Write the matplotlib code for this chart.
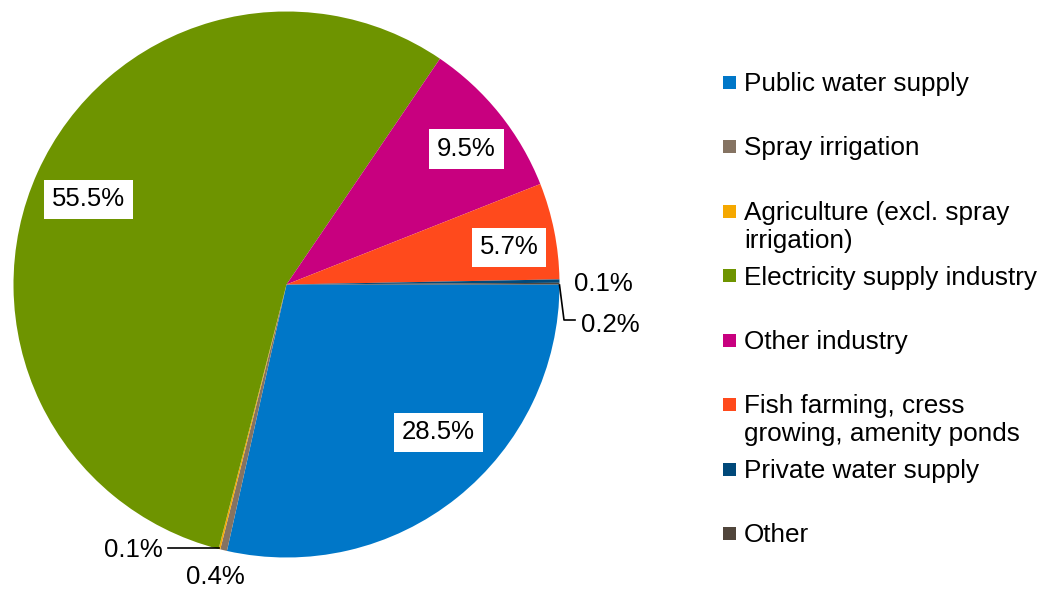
import numpy as np
import matplotlib
matplotlib.use('Agg')
import matplotlib.pyplot as plt
from matplotlib.patches import Rectangle

plt.rcParams['font.family'] = ['Liberation Sans', 'DejaVu Sans']

# abstraction shares by purpose, clockwise from 3 o'clock
categories = ['Public water supply', 'Spray irrigation',
              'Agriculture (excl. spray\nirrigation)', 'Electricity supply industry',
              'Other industry', 'Fish farming, cress\ngrowing, amenity ponds',
              'Private water supply', 'Other']
shares = [28.5, 0.4, 0.1, 55.5, 9.5, 5.7, 0.2, 0.1]
colours = ['#0077C8', '#857362', '#F5A800', '#6E9400',
           '#C8007F', '#FF4A1C', '#00497A', '#50453B']

W, H = 1048, 589
fig = plt.figure(figsize=(W / 100, H / 100), dpi=100)

cx, cy, r = 286.5, 284.5, 273.0
ax = fig.add_axes([(cx - r) / W, (H - cy - r) / H, 2 * r / W, 2 * r / H])
ax.pie(shares, colors=colours, startangle=0, counterclock=False, radius=1.0,
       wedgeprops=dict(linewidth=0))
ax.set_xlim(-1, 1)
ax.set_ylim(-1, 1)
ax.set_aspect('equal')
ax.axis('off')


def px(x, y):
    return (x - cx) / r, (cy - y) / r


fs = 18.5
box = dict(boxstyle='square,pad=0.3', fc='white', ec='none')

# labels inside the big slices (pixel centres)
inside = {0: (438.5, 432.5), 3: (88.5, 199.5), 4: (466.5, 149), 5: (509, 247.5)}
for i, (x, y) in inside.items():
    tx, ty = px(x, y)
    ax.text(tx, ty, f'{shares[i]:.1f}%', ha='center', va='center',
            fontsize=fs, bbox=box)

# small slices with outside labels
outside = {1: (215, 577), 2: (133, 550), 6: (610, 325), 7: (603, 284)}
for i, (x, y) in outside.items():
    tx, ty = px(x, y)
    ax.text(tx, ty, f'{shares[i]:.1f}%', ha='center', va='center',
            fontsize=fs, clip_on=False)

# leader lines
lx, ly = zip(*[px(168, 548), px(219, 548)])
ax.plot(lx, ly, color='black', lw=1.2, clip_on=False)
lx, ly = zip(*[px(559.5, 285), px(564, 320), px(575, 320)])
ax.plot(lx, ly, color='black', lw=1.2, clip_on=False)

# legend drawn at a fixed pitch
y0, pitch = 82, 64.5
for i, (lab, col) in enumerate(zip(categories, colours)):
    yc = y0 + i * pitch
    fig.patches.append(Rectangle((723 / W, (H - yc - 6.5) / H), 13 / W, 13 / H,
                                 transform=fig.transFigure, fc=col, ec='none'))
    fig.text(744 / W, (H - yc + 10) / H, lab, ha='left', va='top',
             fontsize=18.8, linespacing=1.2)

fig.savefig('out.png', dpi=100)
